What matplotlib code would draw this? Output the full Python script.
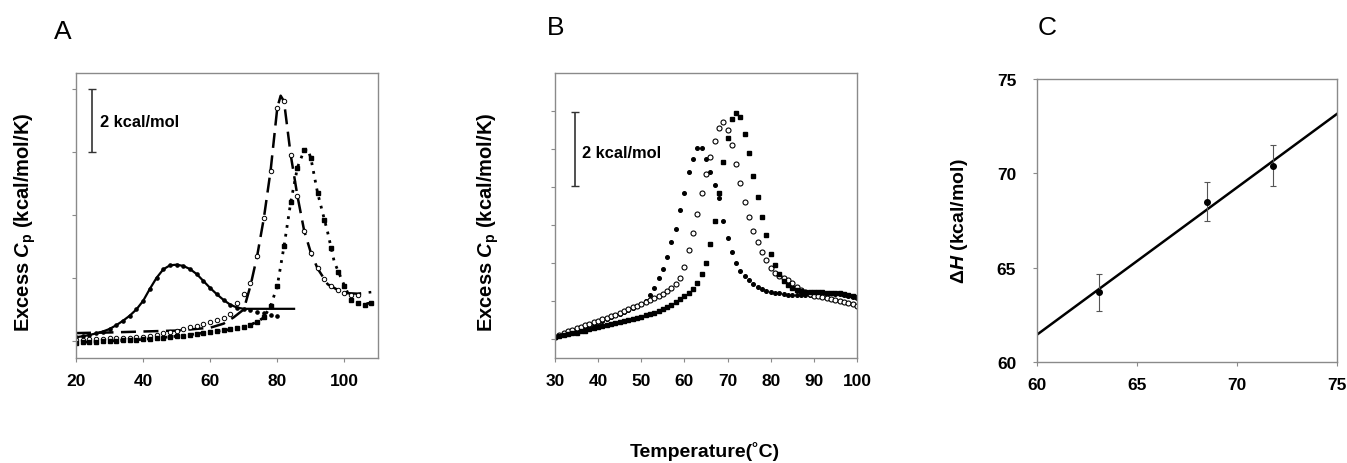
import matplotlib
matplotlib.use("Agg")
import matplotlib.pyplot as plt

plt.rcParams['font.family'] = ['Liberation Sans', 'DejaVu Sans']
plt.rcParams['mathtext.fontset'] = 'custom'
plt.rcParams['mathtext.it'] = 'Liberation Sans:italic:bold'
plt.rcParams['mathtext.rm'] = 'Liberation Sans:bold'

# ---- panel A data (excess Cp, kcal/mol/K) ----
a_solid_T = [20, 22, 24, 26, 28, 30, 32, 34, 36, 38, 40, 42, 44, 46, 48, 50,
             52, 54, 56, 58, 60, 62, 64, 66, 68, 70, 85]
a_solid = [0.12, 0.15, 0.19, 0.24, 0.30, 0.38, 0.50, 0.64, 0.80, 1.00, 1.27, 1.65,
           2.00, 2.27, 2.40, 2.42, 2.38, 2.28, 2.12, 1.90, 1.68, 1.48, 1.30, 1.15,
           1.06, 1.02, 1.02]
a_solid_pts_T = [20, 22, 24, 26, 28, 30, 32, 34, 36, 38, 40, 42, 44, 46, 48, 50,
                 52, 54, 56, 58, 60, 62, 64, 66, 68, 70, 72, 74, 76, 78, 80]
a_solid_pts = [0.12, 0.15, 0.19, 0.24, 0.30, 0.38, 0.50, 0.64, 0.80, 1.00, 1.27, 1.65,
               2.00, 2.27, 2.40, 2.42, 2.38, 2.28, 2.12, 1.90, 1.68, 1.48, 1.30, 1.15,
               1.06, 1.00, 0.97, 0.93, 0.88, 0.83, 0.78]

a_dash_T = [20, 30, 40, 50, 60, 64, 67, 70, 72, 74, 76, 78, 79, 80, 81, 82, 84,
            86, 88, 90, 92, 95, 98, 100, 104, 108]
a_dash = [0.25, 0.27, 0.30, 0.33, 0.42, 0.55, 0.75, 1.0, 1.75, 2.7, 3.9, 5.4, 6.4,
          7.4, 7.78, 7.6, 5.9, 4.6, 3.5, 2.8, 2.3, 1.8, 1.62, 1.52, 1.5, 1.55]
a_circ_T = [20, 22, 24, 26, 28, 30, 32, 34, 36, 38, 40, 42, 44, 46, 48, 50, 52,
            54, 56, 58, 60, 62, 64, 66, 68, 70, 72, 74, 76, 78, 80, 82, 84, 86,
            88, 90, 92, 94, 96, 98, 100, 102, 104]
a_circ = [0.03, 0.04, 0.05, 0.06, 0.07, 0.08, 0.09, 0.10, 0.11, 0.12, 0.14, 0.17,
          0.20, 0.24, 0.28, 0.33, 0.38, 0.43, 0.48, 0.54, 0.60, 0.66, 0.72, 0.85,
          1.20, 1.50, 1.85, 2.7, 3.9, 5.4, 7.4, 7.6, 5.9, 4.6, 3.5, 2.8, 2.3, 1.95,
          1.75, 1.62, 1.52, 1.47, 1.45]

a_dot_T = [20, 30, 40, 50, 60, 65, 70, 74, 76, 78, 80, 82, 84, 86, 88, 89, 90,
           92, 95, 97, 100, 102, 105, 108]
a_dot = [-0.05, 0.0, 0.05, 0.15, 0.28, 0.35, 0.44, 0.6, 0.75, 1.1, 1.75, 3.0, 4.4,
         5.5, 6.05, 6.1, 5.8, 4.7, 3.45, 2.5, 1.75, 1.3, 1.17, 1.2]
a_sq_T = [20, 22, 24, 26, 28, 30, 32, 34, 36, 38, 40, 42, 44, 46, 48, 50, 52, 54,
          56, 58, 60, 62, 64, 66, 68, 70, 72, 74, 76, 78, 80, 82, 84, 86, 88, 90,
          92, 94, 96, 98, 100, 102, 104, 106, 108]
a_sq = [-0.05, -0.04, -0.03, -0.02, -0.01, 0.0, 0.01, 0.02, 0.03, 0.04, 0.05, 0.07,
        0.09, 0.11, 0.13, 0.15, 0.17, 0.19, 0.22, 0.25, 0.28, 0.31, 0.34, 0.37, 0.40,
        0.44, 0.50, 0.60, 0.75, 1.10, 1.75, 3.0, 4.4, 5.5, 6.05, 5.8, 4.7, 3.85, 2.95,
        2.2, 1.75, 1.3, 1.2, 1.15, 1.2]

# ---- panel B data, 30..100 C every 1 degree ----
b_T = list(range(30, 101))
b_dots = [0.05, 0.08, 0.12, 0.16, 0.20, 0.24, 0.28, 0.32, 0.36, 0.40,
          0.44, 0.48, 0.52, 0.57, 0.62, 0.67, 0.72, 0.77, 0.82, 0.87,
          0.93, 1.0, 1.15, 1.35, 1.6, 1.85, 2.15, 2.55, 2.9, 3.4,
          3.85, 4.4, 4.75, 5.03, 5.03, 4.75, 4.4, 4.05, 3.7, 3.1,
          2.65, 2.3, 2.0, 1.8, 1.65, 1.55, 1.46, 1.38, 1.31, 1.27,
          1.24, 1.22, 1.2, 1.18, 1.17, 1.16, 1.15, 1.15, 1.16, 1.17,
          1.18, 1.19, 1.2, 1.2, 1.2, 1.19, 1.18, 1.16, 1.13, 1.1, 1.07]
b_circles = [0.06, 0.10, 0.15, 0.20, 0.24, 0.28, 0.32, 0.36, 0.40, 0.44,
             0.48, 0.52, 0.56, 0.60, 0.64, 0.68, 0.73, 0.78, 0.83, 0.88,
             0.93, 0.98, 1.03, 1.08, 1.13, 1.19, 1.26, 1.34, 1.44, 1.6,
             1.9, 2.35, 2.8, 3.3, 3.85, 4.35, 4.8, 5.2, 5.55, 5.72,
             5.5, 5.1, 4.6, 4.1, 3.6, 3.2, 2.85, 2.55, 2.3, 2.08,
             1.88, 1.75, 1.66, 1.6, 1.55, 1.48, 1.38, 1.3, 1.23, 1.18,
             1.14, 1.12, 1.1, 1.08, 1.05, 1.03, 1.0, 0.97, 0.94, 0.91, 0.88]
b_squares = [0.05, 0.07, 0.10, 0.12, 0.15, 0.17, 0.20, 0.22, 0.25, 0.28,
             0.31, 0.34, 0.37, 0.40, 0.42, 0.45, 0.48, 0.50, 0.53, 0.56,
             0.58, 0.62, 0.65, 0.69, 0.73, 0.78, 0.84, 0.90, 0.97, 1.05,
             1.13, 1.22, 1.32, 1.48, 1.7, 2.0, 2.5, 3.1, 3.85, 4.65,
             5.3, 5.78, 5.95, 5.85, 5.4, 4.9, 4.3, 3.75, 3.2, 2.75,
             2.25, 1.95, 1.7, 1.53, 1.42, 1.34, 1.29, 1.26, 1.24, 1.23,
             1.23, 1.23, 1.23, 1.22, 1.22, 1.21, 1.2, 1.18, 1.16, 1.13, 1.1]

# ---- panel C data ----
c_tm = [63.1, 68.5, 71.8]
c_dh = [63.7, 68.5, 70.4]
c_err = [0.98, 1.05, 1.08]
c_fit_T = [60, 75]
c_fit_dh = [61.45, 73.15]

spine_col = '#8a8a8a'
ylab = r'Excess $\mathit{C}_{\mathrm{p}}$ (kcal/mol/K)'


def style(ax):
    for s in ax.spines.values():
        s.set_color(spine_col)
        s.set_linewidth(1.0)
    ax.tick_params(colors=spine_col, length=3, width=0.8, pad=8)
    for lab in ax.get_xticklabels() + ax.get_yticklabels():
        lab.set_color('black')
        lab.set_fontsize(12.5)
        lab.set_fontweight('bold')


fig = plt.figure(figsize=(13.47, 4.64), dpi=100)

# Panel A
axA = fig.add_axes([0.0564, 0.2263, 0.2242, 0.6142])
axA.plot(a_solid_T, a_solid, color='black', lw=1.6)
axA.plot(a_solid_pts_T, a_solid_pts, 'o', color='black', ms=2.3)
axA.plot(a_dash_T, a_dash, color='black', lw=1.8, dashes=(6, 3))
axA.plot(a_circ_T, a_circ, 'o', mfc='white', mec='black', ms=3.2, mew=0.7)
axA.plot(a_dot_T, a_dot, color='black', lw=2.0, dashes=(1, 2.2))
axA.plot(a_sq_T, a_sq, 's', color='black', ms=2.3)
axA.set_xlim(20, 110)
axA.set_ylim(-0.54, 8.5)
axA.set_xticks([20, 40, 60, 80, 100])
axA.set_yticks([0, 2, 4, 6, 8])
axA.set_yticklabels([])
axA.errorbar([24.9], [7.0], yerr=[1.0], color='#333333', lw=1.2, capsize=3)
axA.text(27.2, 6.95, '2 kcal/mol', fontsize=11.8, fontweight='bold', va='center')
axA.set_ylabel(ylab, fontsize=14.5, fontweight='bold')
axA.yaxis.set_label_coords(-0.126, 0.48)
style(axA)

# Panel B
axB = fig.add_axes([0.412, 0.2263, 0.2242, 0.6142])
axB.plot(b_T, b_dots, 'o', color='black', ms=2.6)
axB.plot(b_T, b_circles, 'o', mfc='white', mec='black', ms=3.6, mew=0.8)
axB.plot(b_T, b_squares, 's', color='black', ms=3.2)
axB.set_xlim(30, 100)
axB.set_ylim(-0.5, 7.0)
axB.set_xticks([30, 40, 50, 60, 70, 80, 90, 100])
axB.set_yticks([0, 1, 2, 3, 4, 5, 6])
axB.set_yticklabels([])
axB.errorbar([34.6], [5.0], yerr=[0.98], color='#333333', lw=1.2, capsize=3)
axB.text(36.2, 4.92, '2 kcal/mol', fontsize=11.8, fontweight='bold', va='center')
axB.set_ylabel(ylab, fontsize=14.5, fontweight='bold')
axB.yaxis.set_label_coords(-0.179, 0.48)
style(axB)

# Panel C
axC = fig.add_axes([0.7699, 0.2177, 0.2227, 0.61])
axC.plot(c_fit_T, c_fit_dh, color='black', lw=1.8)
axC.errorbar(c_tm, c_dh, yerr=c_err, fmt='o', color='black', ms=4,
             ecolor='#555555', elinewidth=0.8, capsize=2, capthick=0.8)
axC.set_xlim(60, 75)
axC.set_ylim(60, 75)
axC.set_xticks([60, 65, 70, 75])
axC.set_yticks([60, 65, 70, 75])
axC.set_ylabel('Δ$\\mathit{H}$ (kcal/mol)', fontsize=14, fontweight='bold')
axC.yaxis.set_label_coords(-0.223, 0.5)
style(axC)
axC.tick_params(axis='y', pad=12)

# panel letters and common x label
fig.text(0.040, 0.93, 'A', fontsize=19, va='center')
fig.text(0.406, 0.94, 'B', fontsize=19, va='center')
fig.text(0.770, 0.94, 'C', fontsize=19, va='center')
fig.text(0.523, 0.026, 'Temperature(˚C)', fontsize=14, fontweight='bold',
         ha='center', va='center')

fig.savefig('out.png', dpi=100)
